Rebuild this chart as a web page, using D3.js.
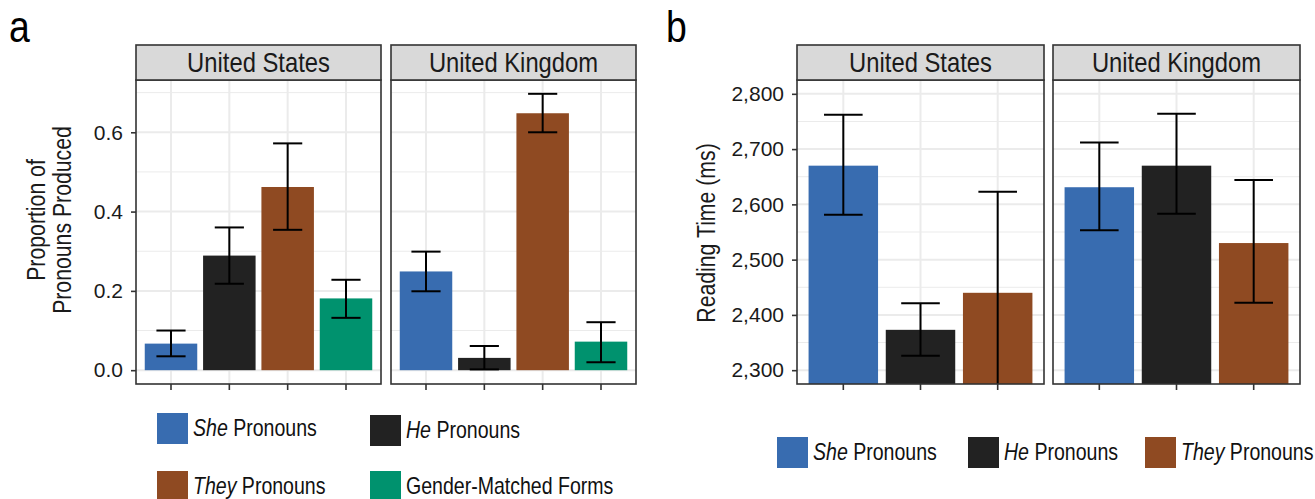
<!DOCTYPE html>
<html>
<head>
<meta charset="utf-8">
<script src="https://cdn.jsdelivr.net/npm/d3@7"></script>
<style>
  body { margin: 0; background: #fff; }
  svg { display: block; font-family: 'Liberation Sans', Arial, sans-serif; }
</style>
</head>
<body>
<svg id="chart" width="1315" height="499"></svg>
<script>
const countries = ['United States', 'United Kingdom'];

// panel a: proportion of pronouns produced
const productionCats = ['She', 'He', 'They', 'Gender-Matched'];
const productionUS = [0.067, 0.289, 0.462, 0.181];
const productionUSLow = [0.035, 0.218, 0.354, 0.132];
const productionUSHigh = [0.1, 0.36, 0.572, 0.228];
const productionUK = [0.249, 0.031, 0.648, 0.072];
const productionUKLow = [0.199, 0.002, 0.6, 0.02];
const productionUKHigh = [0.299, 0.061, 0.697, 0.121];
const productionTicks = [0, 0.2, 0.4, 0.6];
const productionMinor = [0.1, 0.3, 0.5, 0.7];

// panel b: reading time (ms)
const readingCats = ['She', 'He', 'They'];
const readingUS = [2670, 2373, 2440];
const readingUSLow = [2581, 2326, 2257];
const readingUSHigh = [2762, 2421, 2623];
const readingUK = [2631, 2670, 2530];
const readingUKLow = [2553, 2583, 2422];
const readingUKHigh = [2712, 2764, 2644];
const readingLimits = [2300, 2800];
const readingTicks = [2300, 2400, 2500, 2600, 2700, 2800];
const readingMinor = [2350, 2450, 2550, 2650, 2750];

const catColors = {
  She: '#386cb0',
  He: '#222222',
  They: '#8f4a22',
  'Gender-Matched': '#00926e',
};
const legendCats = ['She', 'He', 'They', 'Gender-Matched'];
const legendItalic = ['She', 'He', 'They', ''];
const legendRest = ['Pronouns', 'Pronouns', 'Pronouns', 'Gender-Matched Forms'];

const STRIP_TOP = 45;
const PANEL_TOP = 80;
const PANEL_BOTTOM = 384;
const BORDER = '#333333';
const GRID = '#ebebeb';
const SQUEEZE = 0.85; // the figure uses a condensed face

const svg = d3.select('#chart');

const expand = ([lo, hi]) => {
  const pad = (hi - lo) * 0.05;
  return [lo - pad, hi + pad];
};

// text drawn narrower than the installed sans, to mimic a condensed font
const narrowText = (x, y, size, str, { rotate = 0, anchor = 'start', k = SQUEEZE } = {}) =>
  svg
    .append('text')
    .attr('transform', `translate(${x}, ${y})${rotate ? ` rotate(${rotate})` : ''} scale(${k}, 1)`)
    .attr('text-anchor', anchor)
    .style('font-size', `${size}px`)
    .attr('fill', '#1a1a1a')
    .text(str);

const drawPanel = ({ id, left, facetWidth, gap, cats, series, y, ticks, minor, fmt }) => {
  const base = Math.max(0, y.domain()[0]);

  countries.forEach((country, i) => {
    const x0 = left + i * (facetWidth + gap);
    const x = d3
      .scaleBand()
      .domain(cats)
      .range([x0, x0 + facetWidth])
      .paddingInner(0.1)
      .paddingOuter(0.15);
    const rows = cats.map((c, j) => ({
      cat: c,
      value: series[i].values[j],
      low: series[i].lows[j],
      high: series[i].highs[j],
    }));

    const clipId = `clip-${id}-${i}`;
    svg
      .append('clipPath')
      .attr('id', clipId)
      .append('rect')
      .attr('x', x0)
      .attr('y', PANEL_TOP)
      .attr('width', facetWidth)
      .attr('height', PANEL_BOTTOM - PANEL_TOP);

    const g = svg.append('g').attr('clip-path', `url(#${clipId})`);

    // grid
    g.selectAll('.minor')
      .data(minor)
      .join('line')
      .attr('x1', x0)
      .attr('x2', x0 + facetWidth)
      .attr('y1', (d) => y(d))
      .attr('y2', (d) => y(d))
      .attr('stroke', GRID)
      .attr('stroke-width', 1);
    g.selectAll('.major')
      .data(ticks)
      .join('line')
      .attr('x1', x0)
      .attr('x2', x0 + facetWidth)
      .attr('y1', (d) => y(d))
      .attr('y2', (d) => y(d))
      .attr('stroke', GRID)
      .attr('stroke-width', 2);
    g.selectAll('.vgrid')
      .data(cats)
      .join('line')
      .attr('x1', (d) => x(d) + x.bandwidth() / 2)
      .attr('x2', (d) => x(d) + x.bandwidth() / 2)
      .attr('y1', PANEL_TOP)
      .attr('y2', PANEL_BOTTOM)
      .attr('stroke', GRID)
      .attr('stroke-width', 2);

    // bars
    g.selectAll('.bar')
      .data(rows)
      .join('rect')
      .attr('x', (d) => x(d.cat))
      .attr('width', x.bandwidth())
      .attr('y', (d) => y(d.value))
      .attr('height', (d) => y(base) - y(d.value))
      .attr('fill', (d) => catColors[d.cat]);

    // error bars
    const cap = x.step() * 0.25;
    const cx = (d) => x(d.cat) + x.bandwidth() / 2;
    const eb = g.selectAll('.err').data(rows).join('g').attr('stroke', '#000').attr('stroke-width', 2);
    eb.append('line')
      .attr('x1', cx)
      .attr('x2', cx)
      .attr('y1', (d) => y(d.low))
      .attr('y2', (d) => y(d.high));
    eb.append('line')
      .attr('x1', (d) => cx(d) - cap)
      .attr('x2', (d) => cx(d) + cap)
      .attr('y1', (d) => y(d.high))
      .attr('y2', (d) => y(d.high));
    eb.append('line')
      .attr('x1', (d) => cx(d) - cap)
      .attr('x2', (d) => cx(d) + cap)
      .attr('y1', (d) => y(d.low))
      .attr('y2', (d) => y(d.low));

    // panel border
    svg
      .append('rect')
      .attr('x', x0)
      .attr('y', PANEL_TOP)
      .attr('width', facetWidth)
      .attr('height', PANEL_BOTTOM - PANEL_TOP)
      .attr('fill', 'none')
      .attr('stroke', BORDER)
      .attr('stroke-width', 1.6);

    // strip
    svg
      .append('rect')
      .attr('x', x0)
      .attr('y', STRIP_TOP)
      .attr('width', facetWidth)
      .attr('height', PANEL_TOP - STRIP_TOP)
      .attr('fill', '#d9d9d9')
      .attr('stroke', BORDER)
      .attr('stroke-width', 1.6);
    narrowText(x0 + facetWidth / 2, 72, 28, country, { anchor: 'middle' });

    // x ticks (no labels)
    const xAxis = svg
      .append('g')
      .attr('transform', `translate(0, ${PANEL_BOTTOM})`)
      .call(d3.axisBottom(x).tickSize(6).tickFormat(''));
    xAxis.select('.domain').remove();
    xAxis.selectAll('line').attr('stroke', BORDER).attr('stroke-width', 1.6);
  });

  const yAxis = svg
    .append('g')
    .attr('transform', `translate(${left}, 0)`)
    .call(d3.axisLeft(y).tickValues(ticks).tickSize(5).tickPadding(8).tickFormat(fmt));
  yAxis.attr('font-family', null).attr('font-size', null);
  yAxis.select('.domain').remove();
  yAxis.selectAll('line').attr('stroke', BORDER).attr('stroke-width', 1.6);
  yAxis.selectAll('text').style('font-size', '21px').attr('fill', '#1a1a1a');
};

const drawLegend = ({ items, positions }) => {
  items.forEach((k, i) => {
    const [sx, cy] = positions[i];
    svg
      .append('rect')
      .attr('x', sx)
      .attr('y', cy - 15)
      .attr('width', 31)
      .attr('height', 31)
      .attr('fill', catColors[legendCats[k]]);
    const t = svg
      .append('text')
      .attr('transform', `translate(${sx + 36}, ${cy + 8}) scale(${SQUEEZE}, 1)`)
      .style('font-size', '23px')
      .attr('fill', '#111');
    if (legendItalic[k]) {
      t.append('tspan').style('font-style', 'italic').text(legendItalic[k] + ' ');
    }
    t.append('tspan').text(legendRest[k]);
  });
};

// ---- panel a ----
const yA = d3
  .scaleLinear()
  .domain(expand([0, d3.max([...productionUSHigh, ...productionUKHigh])]))
  .range([PANEL_BOTTOM, PANEL_TOP]);

drawPanel({
  id: 'a',
  left: 136,
  facetWidth: 245,
  gap: 10,
  cats: productionCats,
  series: [
    { values: productionUS, lows: productionUSLow, highs: productionUSHigh },
    { values: productionUK, lows: productionUKLow, highs: productionUKHigh },
  ],
  y: yA,
  ticks: productionTicks,
  minor: productionMinor,
  fmt: d3.format('.1f'),
});

narrowText(45, 220, 25, 'Proportion of', { rotate: -90, anchor: 'middle' });
narrowText(71, 220, 25, 'Pronouns Produced', { rotate: -90, anchor: 'middle' });
narrowText(9, 42, 44, 'a').attr('fill', '#000');

drawLegend({
  items: [0, 1, 2, 3],
  positions: [
    [157, 428],
    [370, 430],
    [157, 486],
    [370, 486],
  ],
});

// ---- panel b ----
const yB = d3.scaleLinear().domain(expand(readingLimits)).range([PANEL_BOTTOM, PANEL_TOP]);

drawPanel({
  id: 'b',
  left: 797,
  facetWidth: 247,
  gap: 9,
  cats: readingCats,
  series: [
    { values: readingUS, lows: readingUSLow, highs: readingUSHigh },
    { values: readingUK, lows: readingUKLow, highs: readingUKHigh },
  ],
  y: yB,
  ticks: readingTicks,
  minor: readingMinor,
  fmt: d3.format(','),
});

narrowText(715, 233, 25, 'Reading Time (ms)', { rotate: -90, anchor: 'middle' });
narrowText(666, 42, 44, 'b').attr('fill', '#000');

drawLegend({
  items: [0, 1, 2],
  positions: [
    [777, 452],
    [968, 452],
    [1145, 452],
  ],
});
</script>
</body>
</html>
